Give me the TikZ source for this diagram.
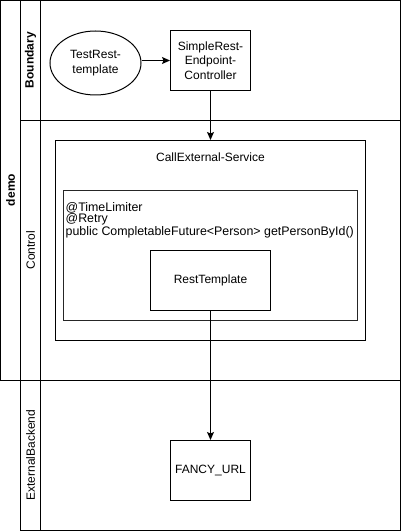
\documentclass[tikz,border=0pt]{standalone}
\usepackage{fontspec}
\setmainfont{Liberation Sans}
\usetikzlibrary{shapes.geometric,arrows.meta}
\begin{document}
\begin{tikzpicture}[x=1pt,y=-1pt,
  every node/.style={font=\fontsize{12pt}{14.4pt}\selectfont},
  line/.style={line width=1pt, draw=black},
  box/.style={line, rectangle, inner sep=0pt, align=center},
  lanelabel/.style={rotate=90, inner sep=0pt},
  arr/.style={line, -{Stealth[length=8pt,width=7pt,inset=1.5pt]}}
]
\useasboundingbox (0,0) rectangle (402,532);
% demo pool
\draw[line] (0.5,0.5) rectangle (400.5,380.5);
\draw[line] (20.5,0.5) -- (20.5,380.5);
\draw[line] (40.5,0.5) -- (40.5,380.5);
\draw[line] (20.5,120.5) -- (400.5,120.5);
% external backend pool
\draw[line] (20.5,380.5) rectangle (400.5,530.5);
\draw[line] (40.5,380.5) -- (40.5,530.5);
% labels
\node[lanelabel, font=\bfseries\fontsize{12pt}{14.4pt}\selectfont] (ldemo) at (10.5,190) {demo};
\node[lanelabel, font=\bfseries\fontsize{12pt}{14.4pt}\selectfont] (lbound) at (30.5,60) {Boundary};
\node[lanelabel] (lctrl) at (30.5,250) {Control};
\node[lanelabel] (lext) at (30.5,455) {ExternalBackend};
% nodes
\node[line, ellipse, minimum width=91pt, minimum height=64pt, inner sep=0pt, align=center] (te) at (95.5,63) {TestRest-\\template};
\node[box, minimum width=80pt, minimum height=60pt] (sc) at (210.5,60.5) {SimpleRest-\\Endpoint-\\Controller};
\node[box, minimum width=310pt, minimum height=200pt] (ces) at (210.5,240.5) {};
\node (cest) at (210.5,157) {CallExternal-Service};
\node[box, draw=black!85, minimum width=294pt, minimum height=130pt] (inner) at (210.5,255.5) {};
\node[anchor=north west, inner sep=0pt, align=left, font=\fontsize{12.4pt}{11.5pt}\selectfont] (code) at (65.5,202.2) {@TimeLimiter\\@Retry\\public CompletableFuture<Person> getPersonById()};
\node[box, fill=white, minimum width=120pt, minimum height=60pt] (rt) at (210.5,280.5) {RestTemplate};
\node[box, minimum width=80pt, minimum height=60pt] (fu) at (210.5,470.5) {FANCY\_URL};
% connectors
\draw[arr] (te.east |- sc.west) -- (sc.west);
\draw[arr] (sc.south) -- (ces.north);
\draw[arr] (rt.south) -- (fu.north);
\end{tikzpicture}
\end{document}
